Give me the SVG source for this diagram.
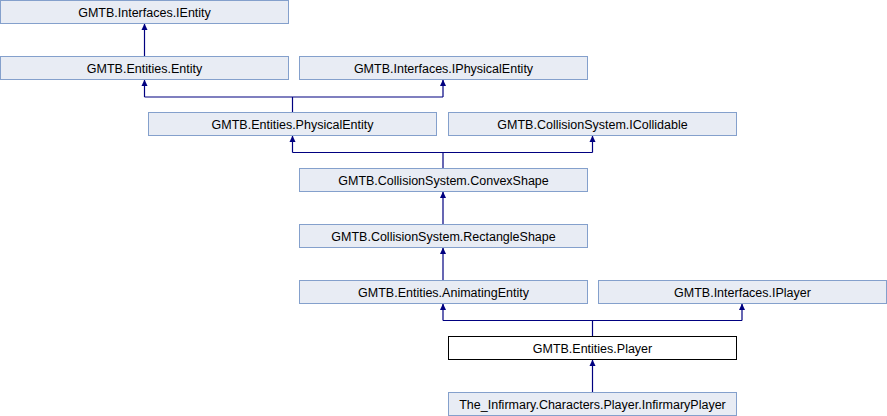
<svg xmlns="http://www.w3.org/2000/svg" width="887" height="416" viewBox="0 0 887 416">
<defs>
<style>
.n rect{fill:#e8ecf4;stroke:#84a0cc;stroke-width:1}
.cur rect{fill:#ffffff;stroke:#000000;stroke-width:1}
text{font-family:"Liberation Sans",Arial,sans-serif;font-size:12.5px;fill:#000;text-anchor:middle}
.e path{fill:none;stroke:#000080;stroke-width:1.2}
</style>
<marker id="ar" markerWidth="7" markerHeight="6" refX="6.5" refY="3" orient="auto" markerUnits="userSpaceOnUse" viewBox="0 0 7 6" overflow="visible">
<path d="M0,0 L6.5,3 L0,6 Z" fill="#000080" stroke="none"/>
</marker>
</defs>
<rect width="887" height="416" fill="#fff"/>
<g id="connectors" class="e">
<path d="M144.5,97 H443"/>
<path d="M292.5,112.5 V97"/>
<path d="M292.5,152.5 H592.5"/>
<path d="M443,168.5 V152.5"/>
<path d="M443,320.5 H742"/>
<path d="M592.5,336.5 V320.5"/>
<path d="M144.5,56.5 V23.5" marker-end="url(#ar)"/>
<path d="M144.5,97 V79.5" marker-end="url(#ar)"/>
<path d="M443,97 V79.5" marker-end="url(#ar)"/>
<path d="M292.5,152.5 V135.5" marker-end="url(#ar)"/>
<path d="M592.5,152.5 V135.5" marker-end="url(#ar)"/>
<path d="M443,224.5 V191.5" marker-end="url(#ar)"/>
<path d="M443,280.5 V247.5" marker-end="url(#ar)"/>
<path d="M443,320.5 V303.5" marker-end="url(#ar)"/>
<path d="M742,320.5 V303.5" marker-end="url(#ar)"/>
<path d="M592.5,392.5 V359.5" marker-end="url(#ar)"/>
</g>
<g id="IEntity" class="n"><rect x="0.5" y="0.5" width="288" height="23"/><text x="144.5" y="16.5">GMTB.Interfaces.IEntity</text></g>
<g id="Entity" class="n"><rect x="0.5" y="56.5" width="288" height="23"/><text x="144.5" y="72.5">GMTB.Entities.Entity</text></g>
<g id="IPhysicalEntity" class="n"><rect x="299.5" y="56.5" width="288" height="23"/><text x="443.5" y="72.5">GMTB.Interfaces.IPhysicalEntity</text></g>
<g id="PhysicalEntity" class="n"><rect x="148.5" y="112.5" width="288" height="23"/><text x="292.5" y="128.5">GMTB.Entities.PhysicalEntity</text></g>
<g id="ICollidable" class="n"><rect x="448.5" y="112.5" width="288" height="23"/><text x="592.5" y="128.5">GMTB.CollisionSystem.ICollidable</text></g>
<g id="ConvexShape" class="n"><rect x="299.5" y="168.5" width="288" height="23"/><text x="443.5" y="184.5">GMTB.CollisionSystem.ConvexShape</text></g>
<g id="RectangleShape" class="n"><rect x="299.5" y="224.5" width="288" height="23"/><text x="443.5" y="240.5">GMTB.CollisionSystem.RectangleShape</text></g>
<g id="AnimatingEntity" class="n"><rect x="299.5" y="280.5" width="288" height="23"/><text x="443.5" y="296.5">GMTB.Entities.AnimatingEntity</text></g>
<g id="IPlayer" class="n"><rect x="598.5" y="280.5" width="288" height="23"/><text x="742.5" y="296.5">GMTB.Interfaces.IPlayer</text></g>
<g id="Player" class="cur"><rect x="448.5" y="336.5" width="288" height="23"/><text x="592.5" y="352.5">GMTB.Entities.Player</text></g>
<g id="InfirmaryPlayer" class="n"><rect x="448.5" y="392.5" width="288" height="23"/><text x="592.5" y="408.5">The_Infirmary.Characters.Player.InfirmaryPlayer</text></g>
</svg>
